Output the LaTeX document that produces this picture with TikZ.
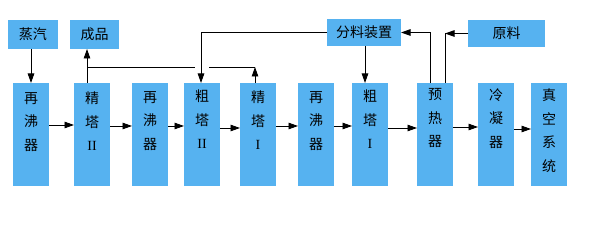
\documentclass[tikz,border=0pt]{standalone}
\usepackage{fontspec}
\setmainfont{Liberation Serif}
\newfontfamily\cjk{Noto Sans CJK SC}
\usetikzlibrary{arrows.meta}
\definecolor{boxblue}{RGB}{86,178,240}
\begin{document}
\begin{tikzpicture}[x=1pt,y=-1pt,
  boxstyle/.style={fill=boxblue, draw=none, inner sep=0pt, outer sep=0pt},
  topbox/.style={boxstyle, font=\cjk\fontsize{14}{16}\selectfont},
  colbox/.style={boxstyle, minimum width=36pt, minimum height=103pt},
  coltext/.style={anchor=north, inner sep=0pt, align=center, font=\cjk\fontsize{14}{23.5}\selectfont},
  conn/.style={line width=0.9pt, draw=black},
  arr/.style={conn, -{Triangle[length=9.5pt,width=6.5pt]}},
]
\useasboundingbox (0,0) rectangle (605,243);

% top boxes
\node[topbox, minimum width=50pt, minimum height=29pt] (steam) at (33,34.5) {蒸汽};
\node[topbox, minimum width=49pt, minimum height=29pt] (prod) at (94.5,34.5) {成品};
\node[topbox, minimum width=74pt, minimum height=27pt] (fen) at (364,32.5) {分料装置};
\node[topbox, minimum width=77pt, minimum height=27pt] (raw) at (506.5,33.5) {原料};

% column boxes
\node[colbox] (b1) at (31,134.5) {};
\node[colbox] (b2) at (92,134.5) {};
\node[colbox] (b3) at (150,134.5) {};
\node[colbox] (b4) at (202,134.5) {};
\node[colbox] (b5) at (258,134.5) {};
\node[colbox] (b6) at (316,134.5) {};
\node[colbox] (b7) at (370,134.5) {};
\node[colbox] (b8) at (435,134.5) {};
\node[colbox] (b9) at (496,134.5) {};
\node[colbox] (b10) at (549,134.5) {};

\node[coltext] (t1) at ([yshift=-9pt]b1.north) {再\\沸\\器};
\node[coltext] (t2) at ([yshift=-9pt]b2.north) {精\\塔\\{\rmfamily\fontsize{14}{23.5}\selectfont II}};
\node[coltext] (t3) at ([yshift=-8pt]b3.north) {再\\沸\\器};
\node[coltext] (t4) at ([yshift=-7pt]b4.north) {粗\\塔\\{\rmfamily\fontsize{14}{23.5}\selectfont II}};
\node[coltext] (t5) at ([yshift=-8pt]b5.north) {精\\塔\\{\rmfamily\fontsize{14}{23.5}\selectfont I}};
\node[coltext] (t6) at ([yshift=-8pt]b6.north) {再\\沸\\器};
\node[coltext] (t7) at ([yshift=-7pt]b7.north) {粗\\塔\\{\rmfamily\fontsize{14}{23.5}\selectfont I}};
\node[coltext] (t8) at ([yshift=-5.5pt]b8.north) {预\\热\\器};
\node[coltext] (t9) at ([yshift=-5.5pt]b9.north) {冷\\凝\\器};
\node[coltext] (t10) at ([yshift=-6pt]b10.north) {真\\空\\系\\统};

% helper coordinates
\coordinate (pA) at (87,67);
\coordinate (pB) at (255,67);
\coordinate (gapL) at (195,67);
\coordinate (gapR) at (209,67);
\coordinate (pC) at (201,0);
\coordinate (pD) at (365,0);
\coordinate (pE) at (430,0);
\coordinate (pF) at (445,0);

% vertical connectors
\draw[arr] (b1.north |- steam.south) -- (b1.north);
\draw[arr] (pA |- b2.north) -- (pA |- prod.south);
\draw[conn] (pA) -- (gapL);
\draw[conn] (gapR) -- (pB);
\draw[arr] (pB |- b5.north) -- (pB);
\draw[arr] (fen.west) -- (pC |- fen.west) -- (pC |- b4.north);
\draw[arr] (pD |- fen.south) -- (pD |- b7.north);
\draw[arr] (pE |- b8.north) -- (pE |- fen.east) -- (fen.east);
\draw[arr] (raw.west) -- (pF |- raw.west);
\draw[conn] (pF |- raw.west) -- (pF |- b8.north);

% horizontal chain
\draw[arr] ([yshift=9.5pt]b1.east) -- ([yshift=9.5pt]b2.west);
\draw[arr] ([yshift=8.5pt]b2.east) -- ([yshift=8.5pt]b3.west);
\draw[arr] ([yshift=8.5pt]b3.east) -- ([yshift=8.5pt]b4.west);
\draw[arr] ([yshift=6.5pt]b4.east) -- ([yshift=6.5pt]b5.west);
\draw[arr] ([yshift=8.5pt]b5.east) -- ([yshift=8.5pt]b6.west);
\draw[arr] ([yshift=8.5pt]b6.east) -- ([yshift=8.5pt]b7.west);
\draw[arr] ([yshift=6.5pt]b7.east) -- ([yshift=6.5pt]b8.west);
\draw[arr] ([yshift=7.5pt]b8.east) -- ([yshift=7.5pt]b9.west);
\draw[arr] ([yshift=5.5pt]b9.east) -- ([yshift=5.5pt]b10.west);
\end{tikzpicture}
\end{document}
